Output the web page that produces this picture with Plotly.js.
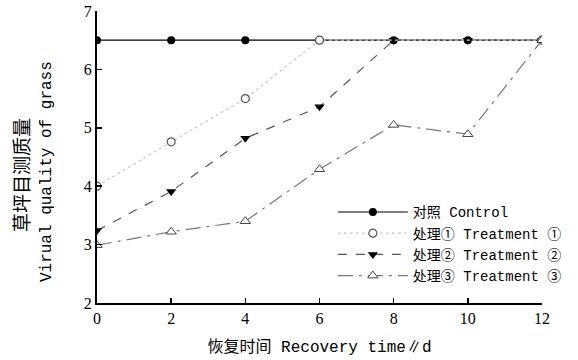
<!DOCTYPE html>
<html><head><meta charset="utf-8">
<script src="https://cdn.plot.ly/plotly-3.0.1.min.js"></script>
<style>body{margin:0;background:#fff}</style>
</head><body><div id="chart" style="width:578px;height:360px"></div>
<script>
const days = [0, 2, 4, 6, 8, 10, 12];
const control = [6.5, 6.5, 6.5, 6.5, 6.5, 6.5, 6.5];
const treatment1 = [4.0, 4.76, 5.5, 6.5, null, null, 6.5];
const treatment2 = [3.24, 3.91, 4.82, 5.36, 6.5, 6.5, 6.5];
const treatment3 = [2.99, 3.22, 3.4, 4.29, 5.05, 4.89, 6.5];
const names = ['对照 Control', '处理① Treatment ①', '处理② Treatment ②', '处理③ Treatment ③'];
const yTitleCn = '草坪目测质量';
const yTitleEn = 'Virual quality of grass';

const txtFont = 'Liberation Mono, Noto Sans CJK SC, monospace';
const traces = [
  {x: days, y: control, name: names[0], mode: 'lines+markers', legendrank: 1,
   line: {color: '#000', width: 1.2, dash: 'solid'},
   marker: {symbol: 'circle', size: 8, color: '#000'}},
  {x: days, y: treatment2, name: names[2], mode: 'lines+markers', legendrank: 3,
   line: {color: '#555', width: 1.2, dash: 'dash'},
   marker: {symbol: 'triangle-down', size: 9, color: '#000'}},
  {x: days, y: treatment1, name: names[1], mode: 'lines+markers', legendrank: 2, connectgaps: true,
   line: {color: '#c8c8c8', width: 1.2, dash: 'dot'},
   marker: {symbol: 'circle', size: 8, color: '#fff', line: {width: 1.2, color: '#555'}}},
  {x: days, y: treatment3, name: names[3], mode: 'lines+markers', legendrank: 4,
   line: {color: '#777', width: 1.2, dash: 'longdashdot'},
   marker: {symbol: 'triangle-up', size: 9, color: '#fff', line: {width: 1, color: '#444'}}}
];
const layout = {
  width: 578, height: 360,
  margin: {l: 97, r: 36, t: 11, b: 57},
  paper_bgcolor: '#fff', plot_bgcolor: '#fff',
  showlegend: true,
  legend: {x: 0.53, y: 0.365, xanchor: 'left', yanchor: 'top',
    font: {family: txtFont, size: 14, color: '#000'}, bgcolor: 'rgba(0,0,0,0)',
    tracegroupgap: 0, traceorder: 'normal', itemwidth: 70},
  xaxis: {range: [0, 12], tickvals: [0, 2, 4, 6, 8, 10, 12], ticks: 'inside', ticklen: 5,
    showgrid: false, zeroline: false, showline: true, linecolor: '#000', linewidth: 2,
    tickcolor: '#000', tickwidth: 1.5,
    tickfont: {family: 'Liberation Serif, serif', size: 16, color: '#000'},
    title: {text: '恢复时间 Recovery time∥d', font: {family: txtFont, size: 16, color: '#000'}, standoff: 15}},
  yaxis: {range: [2, 7], tickvals: [2, 3, 4, 5, 6, 7], ticks: 'inside', ticklen: 5,
    showgrid: false, zeroline: false, showline: true, linecolor: '#000', linewidth: 2,
    tickcolor: '#000', tickwidth: 1.5,
    tickfont: {family: 'Liberation Serif, serif', size: 16, color: '#000'}},
  annotations: [
    {text: yTitleCn, xref: 'paper', yref: 'paper', x: -0.173, y: 0.438, textangle: -90,
     showarrow: false, xanchor: 'center', yanchor: 'middle',
     font: {family: 'Noto Sans CJK SC, sans-serif', size: 19, color: '#000'}},
    {text: yTitleEn, xref: 'paper', yref: 'paper', x: -0.112, y: 0.449, textangle: -90,
     showarrow: false, xanchor: 'center', yanchor: 'middle',
     font: {family: txtFont, size: 16, color: '#000'}}
  ]
};
Plotly.newPlot('chart', traces, layout, {displayModeBar: false, staticPlot: true});
</script></body></html>
